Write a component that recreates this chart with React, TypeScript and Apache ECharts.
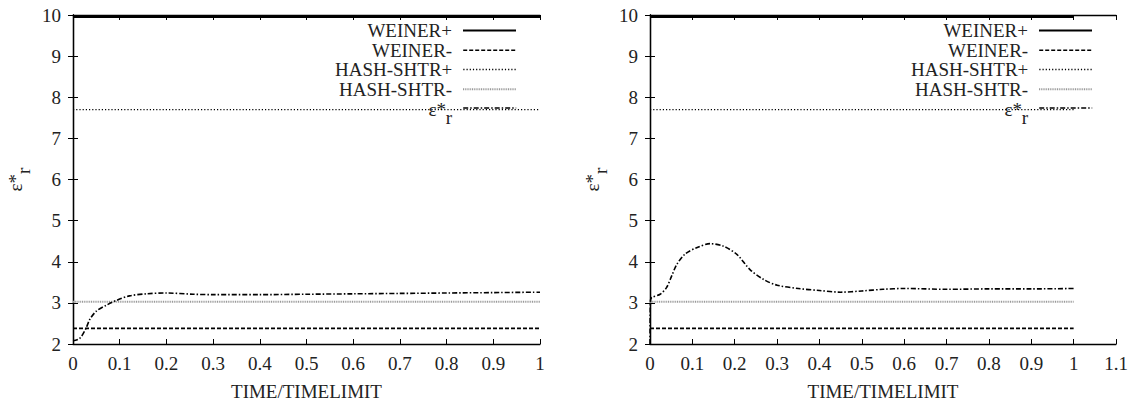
import React, { useEffect, useRef } from "react";
import * as echarts from "echarts";

// ---------- data ----------
const SERIES_NAMES = ["WEINER+", "WEINER-", "HASH-SHTR+", "HASH-SHTR-", "ε*r"];
// constant reference levels (same in both panels)
const LEVEL_VALUES = [9.95, 2.38, 7.7, 3.03];
const LEVEL_X_RANGE = [0, 1];

// left panel ε*r curve
const LEFT_X = [0, 0.014, 0.027, 0.036, 0.05, 0.071, 0.093, 0.121, 0.157, 0.2, 0.257, 0.3, 0.4, 0.5, 0.6, 0.7, 0.8, 0.9, 1.0];
const LEFT_Y = [2.08, 2.13, 2.36, 2.6, 2.8, 2.94, 3.06, 3.17, 3.22, 3.24, 3.21, 3.2, 3.2, 3.21, 3.22, 3.23, 3.24, 3.25, 3.26];

// right panel ε*r curve
const RIGHT_X = [0, 0.001, 0.004, 0.024, 0.039, 0.051, 0.063, 0.083, 0.11, 0.142, 0.173, 0.205, 0.236, 0.268, 0.3, 0.35, 0.4, 0.45, 0.5, 0.55, 0.6, 0.7, 0.8, 0.9, 1.0];
const RIGHT_Y = [2.0, 3.05, 3.13, 3.21, 3.37, 3.65, 3.93, 4.19, 4.34, 4.44, 4.38, 4.18, 3.81, 3.57, 3.43, 3.35, 3.3, 3.26, 3.29, 3.33, 3.35, 3.33, 3.34, 3.34, 3.35];

const X_RANGES = [
  { min: 0, max: 1, interval: 0.1 },
  { min: 0, max: 1.1, interval: 0.1 },
];
const Y_RANGE = { min: 2, max: 10, interval: 1 };
const X_NAME = "TIME/TIMELIMIT";
const EPS_RICH_LABEL = "{e|ε*}{r|r}";

// ---------- styles ----------
const FONT = "'Liberation Serif', 'Times New Roman', serif";
const TEXT = "#222";
const FS = 19;
const LINE_STYLES: any[] = [
  { color: "#000", width: 2, type: "solid" },
  { color: "#000", width: 1.6, type: [4, 2] },
  { color: "#000", width: 1.4, type: [1.2, 2] },
  { color: "#999", width: 2, type: [1, 0.8] },
  { color: "#000", width: 1.6, type: [5, 2, 1.5, 2] },
];

const richEpsAxis = {
  e: { fontFamily: FONT, fontSize: FS, color: TEXT, lineHeight: 20, verticalAlign: "middle" },
  r: { fontFamily: FONT, fontSize: FS, color: TEXT, lineHeight: 36, verticalAlign: "bottom" },
};
const richEpsLegend = {
  e: { fontFamily: FONT, fontSize: FS, color: TEXT, lineHeight: 20, verticalAlign: "top" },
  r: { fontFamily: FONT, fontSize: FS, color: TEXT, lineHeight: 20, verticalAlign: "top", padding: [8, 0, 0, 0] },
};

const GRIDS = [
  { left: 73, top: 15, width: 467, height: 330 },
  { left: 650, top: 15, width: 466, height: 330 },
];
const LEGEND_RIGHT = [617, 41];
const LEGEND_TOPS = [21, 40.7, 60, 79.7, 100];

function buildOption() {
  const xAxis: any[] = [];
  const yAxis: any[] = [];
  const series: any[] = [];
  const legend: any[] = [];
  const axisLine = { show: true, lineStyle: { color: "#000", width: 1.3 } };
  const tick = { show: true, inside: true, length: 5, lineStyle: { color: "#000", width: 1 } };
  const label = { fontFamily: FONT, fontSize: FS, color: TEXT };

  GRIDS.forEach((g, gi) => {
    const xr = X_RANGES[gi];
    xAxis.push({
      type: "value", gridIndex: gi, position: "bottom", ...xr,
      axisLine, axisTick: tick, splitLine: { show: false },
      axisLabel: { ...label, margin: 10 },
      name: X_NAME, nameLocation: "middle", nameGap: 38,
      nameTextStyle: { fontFamily: FONT, fontSize: FS, color: TEXT },
    });
    xAxis.push({
      type: "value", gridIndex: gi, position: "top", ...xr,
      axisLine, axisTick: tick, splitLine: { show: false }, axisLabel: { show: false },
    });
    yAxis.push({
      type: "value", gridIndex: gi, position: "left", ...Y_RANGE,
      axisLine, axisTick: tick, splitLine: { show: false },
      axisLabel: { ...label, margin: 12 },
      name: EPS_RICH_LABEL, nameLocation: "middle", nameGap: 40, nameRotate: 90,
      nameTextStyle: { rich: richEpsAxis },
    });
    yAxis.push({
      type: "value", gridIndex: gi, position: "right", ...Y_RANGE,
      axisLine, axisTick: tick, splitLine: { show: false }, axisLabel: { show: false },
    });

    const xi = gi * 2;
    LEVEL_VALUES.forEach((v, li) => {
      series.push({
        type: "line", name: SERIES_NAMES[li], xAxisIndex: xi, yAxisIndex: xi,
        data: LEVEL_X_RANGE.map((x) => [x, v]),
        symbol: "none", showSymbol: false, itemStyle: { color: LINE_STYLES[li].color },
        lineStyle: LINE_STYLES[li], z: 2 + li,
      });
    });
    const cx = gi === 0 ? LEFT_X : RIGHT_X;
    const cy = gi === 0 ? LEFT_Y : RIGHT_Y;
    series.push({
      type: "line", name: SERIES_NAMES[4], xAxisIndex: xi, yAxisIndex: xi,
      data: cx.map((x, i) => [x, cy[i]]),
      symbol: "none", showSymbol: false, itemStyle: { color: "#000" },
      smooth: 0.3, lineStyle: LINE_STYLES[4], z: 8,
    });

    SERIES_NAMES.forEach((n, ni) => {
      const isEps = ni === 4;
      legend.push({
        data: [n], orient: "horizontal", align: "right",
        right: LEGEND_RIGHT[gi], top: LEGEND_TOPS[ni],
        itemWidth: 53, itemHeight: 12, padding: 0, selectedMode: false,
        itemStyle: { opacity: 0, borderWidth: 0 },
        lineStyle: { ...LINE_STYLES[ni] },
        formatter: isEps ? () => EPS_RICH_LABEL : undefined,
        textStyle: {
          fontFamily: FONT, fontSize: FS, color: TEXT,
          padding: isEps ? [4, 6, 0, 0] : [0, 6, 0, 0],
          rich: richEpsLegend,
        },
      });
    });
  });

  return {
    animation: false,
    backgroundColor: "#fff",
    grid: GRIDS,
    xAxis,
    yAxis,
    series,
    legend,
  };
}

export default function App() {
  const ref = useRef<HTMLDivElement>(null);
  useEffect(() => {
    if (!ref.current) return;
    const chart = echarts.init(ref.current, undefined, { renderer: "svg" });
    chart.setOption(buildOption() as any);
    return () => chart.dispose();
  }, []);
  return (
    <div
      ref={ref}
      style={{ position: "absolute", left: 0, top: 0, width: 1134, height: 406, background: "#fff" }}
    />
  );
}
